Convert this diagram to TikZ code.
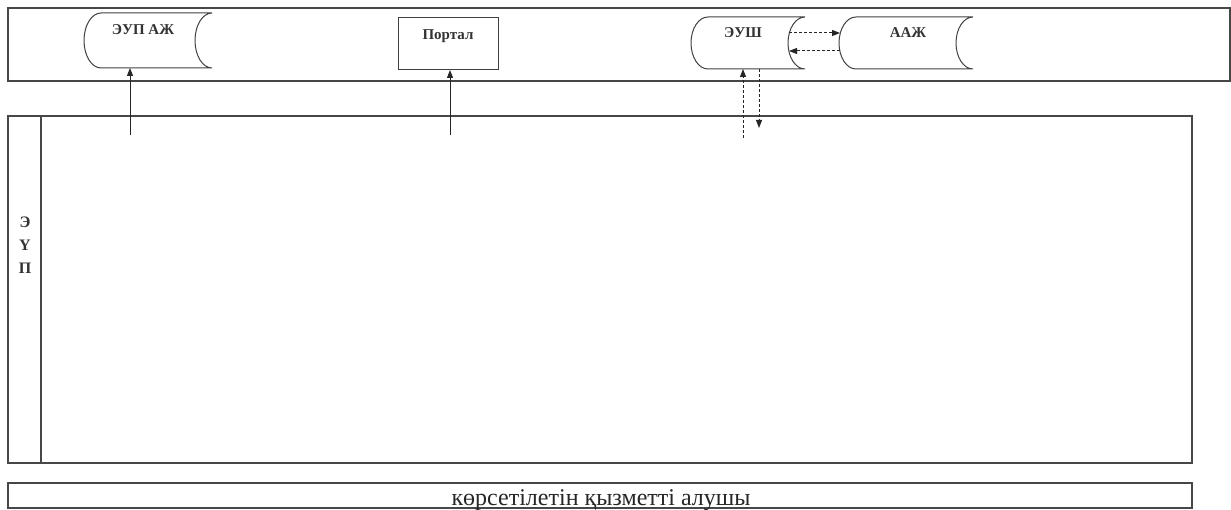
\documentclass[tikz,border=0pt]{standalone}
\usepackage{fontspec}
\setmainfont{Liberation Serif}
\usetikzlibrary{arrows.meta,calc}
\begin{document}
\begin{tikzpicture}[x=1pt,y=-1pt,
  lane/.style={draw=black!72, line width=1.4pt, inner sep=0pt, outer sep=0pt},
  frame/.style={inner sep=0pt, outer sep=0pt},
  shapeline/.style={draw=black!75, line width=1pt},
  lbl/.style={font=\fontsize{15}{15}\selectfont\bfseries, text=black!80, inner sep=0pt, anchor=base},
  conn/.style={-{Triangle[length=8pt,width=6pt]}, line width=1pt, draw=black!85},
  dconn/.style={conn, dash pattern=on 3pt off 2pt}]
\useasboundingbox (0,0) rectangle (1231,510);
% lanes
\node[lane, minimum width=1222pt, minimum height=73pt, anchor=north west] (top) at (8,8) {};
\node[lane, minimum width=1184pt, minimum height=347pt, anchor=north west] (main) at (8,116) {};
\coordinate (divtop) at (41,116);
\draw[lane] (divtop) -- (divtop |- main.south);
\node[lane, minimum width=1184pt, minimum height=25pt, anchor=north west] (recv) at (8,483) {};
\node[font=\fontsize{24}{24}\selectfont, text=black!85, inner sep=0pt, anchor=base] (recvtext) at (601,505) {көрсетілетін қызметті алушы};
\node[font=\fontsize{16}{23}\selectfont\bfseries, text=black!80, align=center, inner sep=0pt] (euplbl) at (25,245) {Э\\Ү\\П};
% stored data shapes
\node[frame, minimum width=128pt, minimum height=55pt] (eup) at (148,40.5) {};
\node[frame, minimum width=114pt, minimum height=52pt] (eush) at (748,43) {};
\node[frame, minimum width=134pt, minimum height=52pt] (aaj) at (906,43) {};
\foreach \n/\r in {eup/27.5, eush/26, aaj/26}{
  \draw[shapeline] ([xshift=17pt]\n.north west) -- (\n.north east)
    arc[start angle=90, end angle=270, x radius=17pt, y radius=\r pt]
    -- ([xshift=17pt]\n.south west)
    arc[start angle=270, end angle=90, x radius=17pt, y radius=\r pt] -- cycle;
}
\node[shapeline, draw, frame, minimum width=100pt, minimum height=52pt] (portal) at (448,44) {};
\node[lbl] (euptxt) at (143,35) {ЭУП АЖ};
\node[lbl] (eushtxt) at (743,38) {ЭУШ};
\node[lbl] (aajtxt) at (908,38) {ААЖ};
\node[lbl] (portaltxt) at (448,40) {Портал};
% connectors
\coordinate (a1) at (130,135);
\draw[conn] (a1) -- (a1 |- eup.south);
\coordinate (a2) at (450,135);
\draw[conn] (a2) -- (a2 |- portal.south);
\coordinate (a3) at (743,138);
\draw[dconn] (a3) -- (a3 |- eush.south);
\coordinate (a4) at (759,128);
\draw[dconn] (a4 |- eush.south) -- (a4);
\draw[dconn] ([xshift=-16pt,yshift=10pt]eush.east) -- ([xshift=1pt,yshift=10pt]aaj.west);
\draw[dconn] ([xshift=1pt,yshift=-8pt]aaj.west) -- ([xshift=-16pt,yshift=-8pt]eush.east);
\end{tikzpicture}
\end{document}
